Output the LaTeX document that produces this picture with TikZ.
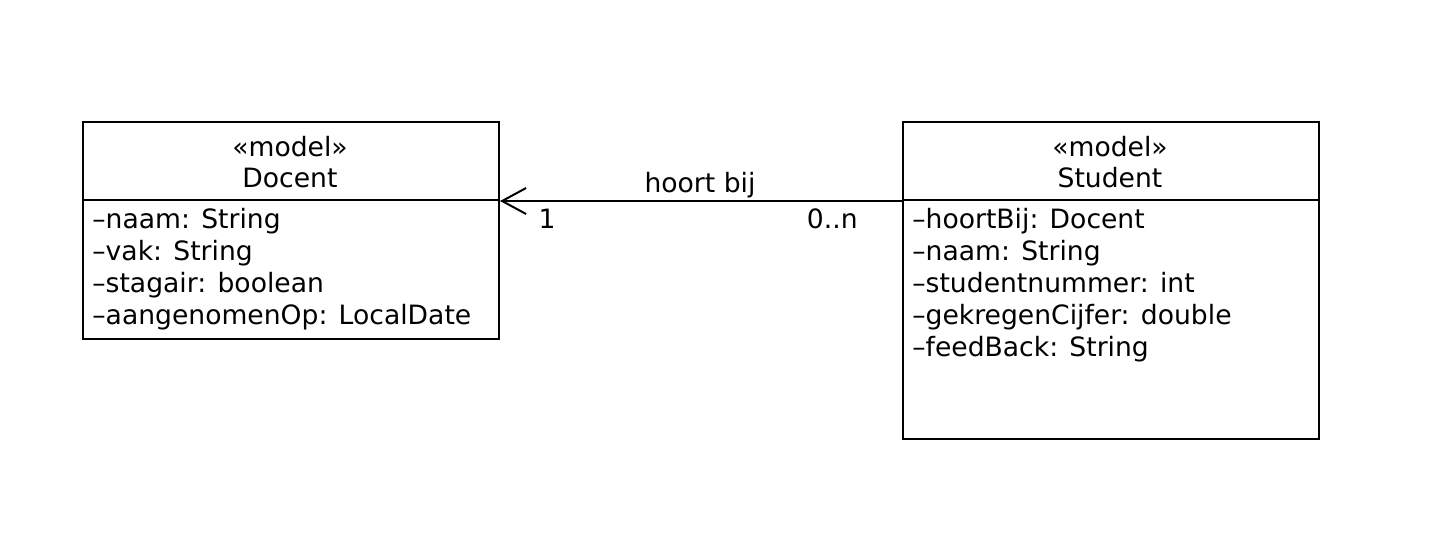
\documentclass[tikz,border=0pt]{standalone}
\usepackage{fontspec}
\setmainfont{DejaVu Sans}
\usetikzlibrary{arrows.meta}

\begin{document}
\begin{tikzpicture}[x=.5pt,y=-.5pt,
  box/.style={draw,line width=1pt,inner sep=0pt,anchor=north west,minimum width=208pt},
  txt/.style={inner sep=0pt,font=\fontsize{13.3}{16}\selectfont},
  assoc/.style={line width=1pt,-{Straight Barb[length=12pt,width=13pt,line width=1pt]}}]
\path[use as bounding box] (0,0) rectangle (1440,532);
% Docent
\node[box,minimum height=39pt] (docenthead) at (82,121) {};
\node[box,minimum height=69.5pt] (docentbody) at (82,199) {};
\node[txt,anchor=base] (docentster) at (290,156) {«model»};
\node[txt,anchor=base] (docentname) at (290,187) {Docent};
\foreach \a [count=\i] in {naam: String,vak: String,stagair: boolean,aangenomenOp: LocalDate}
  \node[txt,anchor=base west] (docentattr\i) at (92,196+32*\i) {–\a};
% Student
\node[box,minimum height=39pt] (studenthead) at (902,121) {};
\node[box,minimum height=119.5pt] (studentbody) at (902,199) {};
\node[txt,anchor=base] (studentster) at (1110,156) {«model»};
\node[txt,anchor=base] (studentname) at (1110,187) {Student};
\foreach \a [count=\i] in {hoortBij: Docent,naam: String,studentnummer: int,gekregenCijfer: double,feedBack: String}
  \node[txt,anchor=base west] (studentattr\i) at (912,196+32*\i) {–\a};
% association
\draw[assoc] ([yshift=-1pt]studentbody.north west) -- ([yshift=-1pt]docentbody.north east);
\node[txt,anchor=base] (assoclabel) at (700,192) {hoort bij};
\node[txt,anchor=base] (multone) at (547,228) {1};
\node[txt,anchor=base east] (multmany) at (858,228) {0..n};
\end{tikzpicture}
\end{document}
